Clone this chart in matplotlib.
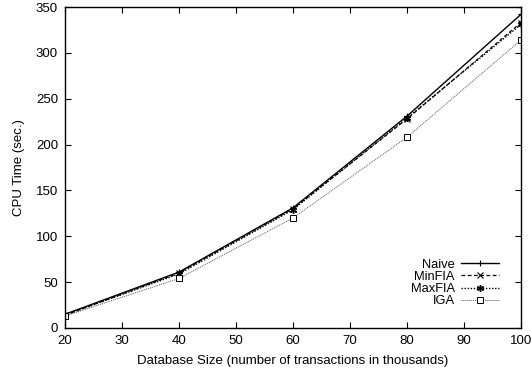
import matplotlib
matplotlib.use("Agg")
import matplotlib.pyplot as plt

plt.rcParams['font.family'] = ['Liberation Sans', 'DejaVu Sans']

db_size = [20, 40, 60, 80, 100]
naive = [15, 61, 131, 231, 342]
minfia = [14, 60, 130, 228, 333]
maxfia = [14, 59, 129, 229, 331]
iga = [13, 54, 120, 208, 314]

x_ticks = [20, 30, 40, 50, 60, 70, 80, 90, 100]
y_ticks = [0, 50, 100, 150, 200, 250, 300, 350]

fig = plt.figure(figsize=(5.31, 3.74), dpi=100)
ax = fig.add_axes([65/531, 1 - 328/374, (521-65)/531, (328-7)/374])

ax.plot(db_size, naive, color='black', linestyle='-', linewidth=1.0,
        marker='+', markersize=5, markeredgewidth=0.8, label='Naive')
ax.plot(db_size, minfia, color='black', linestyle=(0, (3, 2)), linewidth=0.9,
        marker='x', markersize=4, markeredgewidth=0.8, label='MinFIA')
ax.plot(db_size, maxfia, color='black', linestyle=(0, (1, 1.2)), linewidth=1.0,
        marker=(6, 2, 0), markersize=5, markeredgewidth=1.0, label='MaxFIA')
ax.plot(db_size, iga, color='#555555', linestyle=(0, (1, 1)), linewidth=0.7,
        marker='s', markersize=4.5, markerfacecolor='white', markeredgecolor='black',
        markeredgewidth=0.7, label='IGA')

ax.set_xlim(20, 100)
ax.set_ylim(0, 350)
ax.set_xticks(x_ticks)
ax.set_yticks(y_ticks)
ax.tick_params(direction='in', top=True, right=True, length=4, width=0.8,
               labelsize=9.5, pad=5)
for s in ax.spines.values():
    s.set_linewidth(1.0)

ax.set_xlabel('Database Size (number of transactions in thousands)', fontsize=9.5, labelpad=6)
ax.set_ylabel('CPU Time (sec.)', fontsize=9.5, labelpad=8)

ax.legend(loc='lower right', frameon=False, markerfirst=False, fontsize=9.3,
          handlelength=2.9, handletextpad=0.5, labelspacing=0.0,
          borderpad=0.3, bbox_to_anchor=(0.974, 0.033))

fig.savefig('out.png', dpi=100)
